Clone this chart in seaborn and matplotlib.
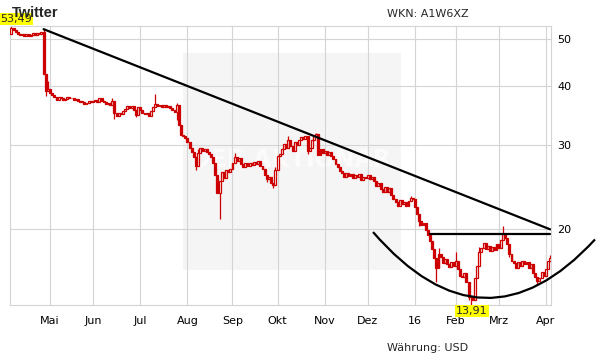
import numpy as np
import pandas as pd
import matplotlib
matplotlib.use("Agg")
import matplotlib.pyplot as plt
import seaborn as sns
from matplotlib.path import Path
from matplotlib.patches import PathPatch, Rectangle

# ---------------- data ----------------
start_date = "2015-04-07"
end_date = "2016-04-05"
exchange_holidays = ["2015-05-25", "2015-07-03", "2015-09-07", "2015-11-26",
                     "2015-12-25", "2016-01-01", "2016-01-18", "2016-02-15",
                     "2016-03-25"]
month_labels = ["Mai", "Jun", "Jul", "Aug", "Sep", "Okt", "Nov", "Dez",
                "16", "Feb", "Mrz", "Apr"]
y_ticks = [20, 30, 40, 50]

first_open = 51.2
closes = [
    52.8, 52.2, 51.9, 51.4, 51.0, 51.3, 50.9, 51.2, 50.7, 51.0,
    51.5, 51.1, 51.6, 51.3, 51.9, 42.3, 38.9, 39.4, 38.5, 38.2,
    37.8, 37.4, 37.9, 37.6, 37.3, 37.5, 37.9, 37.6, 37.7, 37.3,
    37.5, 37.2, 37.0, 36.9, 36.6, 36.8, 37.1, 36.9, 37.2, 37.4,
    37.0, 37.6, 37.2, 36.9, 36.6, 36.8, 36.4, 37.2, 35.0, 34.6,
    35.1, 34.8, 35.3, 35.8, 36.3, 35.9, 36.2, 35.6, 34.7, 36.0,
    35.5, 35.1, 34.8, 35.0, 34.6, 35.3, 36.0, 36.6, 36.3, 36.5,
    36.0, 36.4, 36.1, 36.3, 35.9, 35.6, 35.2, 36.5, 33.0, 31.5,
    31.4, 31.1, 30.5, 29.6, 29.0, 28.3, 27.1, 28.9, 29.6, 29.2,
    29.5, 29.0, 28.8, 28.3, 27.6, 26.0, 23.8, 25.2, 26.4, 25.6,
    26.6, 26.4, 26.7, 27.6, 28.4, 27.8, 28.2, 27.4, 27.0, 27.5,
    27.2, 27.6, 27.3, 27.7, 27.4, 27.8, 27.2, 26.8, 26.0, 25.5,
    25.8, 25.0, 24.8, 26.6, 28.5, 28.8, 29.4, 30.2, 29.6, 30.8,
    29.9, 29.2, 30.5, 30.0, 30.8, 31.2, 30.9, 31.3, 29.2, 29.6,
    30.8, 31.4, 31.6, 28.6, 29.4, 28.9, 29.2, 28.6, 29.0, 28.5,
    28.1, 27.4, 27.0, 26.5, 26.2, 25.8, 26.3, 25.9, 26.1, 25.6,
    26.0, 25.7, 26.1, 25.4, 25.8, 25.6, 26.0, 25.5, 25.8, 25.2,
    24.6, 25.0, 24.3, 24.0, 24.5, 23.9, 24.4, 23.6, 23.2, 22.8,
    22.4, 23.0, 22.6, 22.8, 22.4, 22.9, 23.3, 23.1, 22.3, 21.5,
    20.8, 20.4, 20.6, 19.9, 19.5, 18.9, 18.2, 17.4, 16.6, 17.8,
    17.5, 17.0, 17.3, 16.9, 16.7, 17.1, 16.8, 17.2, 16.5, 16.0,
    15.9, 16.2, 15.5, 14.4, 14.5, 14.2, 15.8, 16.8, 17.9, 18.3,
    18.7, 18.2, 18.5, 18.0, 18.4, 18.1, 18.6, 18.3, 19.0, 19.6,
    19.2, 18.6, 17.8, 17.2, 17.0, 16.6, 17.1, 16.8, 17.2, 16.9,
    17.1, 16.6, 16.9, 16.2, 15.9, 15.6, 15.8, 16.3, 16.0, 16.5,
    17.2, 17.4,
]
extra_highs = {0: 53.49, 15: 52.5, 17: 40.8, 47: 37.6, 67: 38.4, 77: 36.8,
               87: 29.4, 104: 28.9, 123: 27.0, 129: 31.3, 142: 31.9, 143: 31.0,
               186: 23.5, 199: 18.3, 207: 17.9, 218: 18.4, 229: 20.3, 251: 17.7}
extra_lows = {16: 38.0, 48: 34.0, 58: 34.3, 77: 33.9, 86: 26.6, 97: 21.0,
              119: 25.1, 122: 24.4, 138: 28.8, 190: 20.3, 198: 15.5,
              213: 14.2, 214: 13.91, 232: 17.5, 245: 15.4}

trend_days = [15, 251]
trend_prices = [52.5, 20.0]
resist_days = [195, 251]
resist_prices = [19.6, 19.6]
cup_days = [168.5, 220.2, 271.9]      # quadratic Bezier control points
cup_prices = [19.74, 10.65, 19.05]

max_label = "53,49"
min_label = "13,91"

# ---------------- build ----------------
dates = pd.bdate_range(start_date, end_date, freq="C", holidays=exchange_holidays)
n = len(closes)
idx = np.arange(n)
c = np.array(closes)
o = np.array([first_open] + closes[:-1])
h = np.maximum(o, c)
lo = np.minimum(o, c)
for d, v in extra_highs.items():
    h[d] = v
for d, v in extra_lows.items():
    lo[d] = v
df = pd.DataFrame({"day": idx, "open": o, "close": c, "high": h, "low": lo})
df["date"] = dates[:n]

sns.set_theme(style="white")
plt.rcParams["font.family"] = ["DejaVu Sans"]

W, H = 611, 364
fig = plt.figure(figsize=(W / 100, H / 100), dpi=100)
ax = fig.add_axes([10 / W, 1 - 305.3 / H, 541 / W, 279.6 / H])
ax.set_facecolor("white")

red = "#cc0000"
grid_c = "#d4d4d4"

# watermark area
ax.add_patch(Rectangle((0.320, 0.126), 0.403, 0.776, transform=ax.transAxes,
                       facecolor="#f5f5f5", edgecolor="none", zorder=0.1))
ax.text(0.52, 0.52, "DER AKTIONÄR", transform=ax.transAxes, ha="center",
        va="center", fontsize=17, fontweight="bold", color="#fbfbfb", zorder=0.3)

# candles
up = df["close"] >= df["open"]
body_lo = np.minimum(df["open"], df["close"]).values
body_h = np.maximum(np.abs(df["close"] - df["open"]).values, body_lo * 0.004)
ax.vlines(df["day"], df["low"], df["high"], color=red, linewidth=0.9, zorder=2)
ax.bar(df["day"][up], body_h[up], bottom=body_lo[up], width=0.9,
       facecolor="white", edgecolor=red, linewidth=0.9, zorder=3)
ax.bar(df["day"][~up], body_h[~up], bottom=body_lo[~up], width=0.9,
       facecolor=red, edgecolor=red, linewidth=0.9, zorder=3)

# trend lines
sns.lineplot(x=trend_days, y=trend_prices, ax=ax, color="black",
             linewidth=1.6, zorder=4, solid_capstyle="round")
sns.lineplot(x=resist_days, y=resist_prices, ax=ax, color="black",
             linewidth=1.6, zorder=4)
cup = Path(list(zip(cup_days, cup_prices)), [Path.MOVETO, Path.CURVE3, Path.CURVE3])
ax.add_patch(PathPatch(cup, facecolor="none", edgecolor="black", linewidth=1.6,
                       transform=ax.transData, clip_on=False, zorder=4))

# scales
ax.set_yscale("log")
ax.set_ylim(df["low"].min() * 0.997, df["high"].max() * 0.998)
ax.set_xlim(-0.65, 251.4)
ax.yaxis.tick_right()
ax.set_yticks(y_ticks)
ax.set_yticklabels([str(t) for t in y_ticks])
ax.yaxis.set_minor_locator(matplotlib.ticker.NullLocator())
month_start = np.where(df["date"].dt.month.values[1:] != df["date"].dt.month.values[:-1])[0] + 1
ax.set_xticks(month_start)
ax.set_xticklabels(month_labels)
ax.tick_params(axis="x", length=0, pad=8, labelsize=8, colors="black")
ax.tick_params(axis="y", length=0, pad=4.5, labelsize=8, colors="black")
ax.set_xlabel("")
ax.set_ylabel("")
ax.grid(True, color=grid_c, linewidth=0.8)
ax.set_axisbelow(True)
for s in ax.spines.values():
    s.set_color(grid_c)
    s.set_linewidth(0.8)

# labels
imax = int(df["high"].idxmax())
imin = int(df["low"].idxmin())
ax.annotate(max_label, (imax, df["high"].max()), xytext=(3.5, 4.8),
            textcoords="offset points", ha="center", va="center", fontsize=8,
            bbox=dict(boxstyle="square,pad=0.08", facecolor="#ffff00",
                      edgecolor="none"), annotation_clip=False, zorder=10)
ax.annotate(min_label, (imin, df["low"].min()), xytext=(0.8, -4.3),
            textcoords="offset points", ha="center", va="center", fontsize=8,
            bbox=dict(boxstyle="square,pad=0.08", facecolor="#ffff00",
                      edgecolor="none"), annotation_clip=False, zorder=10)

fig.text(11.7 / W, 1 - 17.3 / H, "Twitter", fontsize=10.5, fontweight="bold",
         family=["Liberation Sans", "DejaVu Sans"], va="baseline", ha="left", zorder=1)
fig.text(387 / W, 1 - 17.3 / H, "WKN: A1W6XZ", fontsize=8, va="baseline", ha="left")
fig.text(387 / W, 1 - 350.7 / H, "Währung: USD", fontsize=8, va="baseline", ha="left")

fig.savefig("out.png", dpi=100)
